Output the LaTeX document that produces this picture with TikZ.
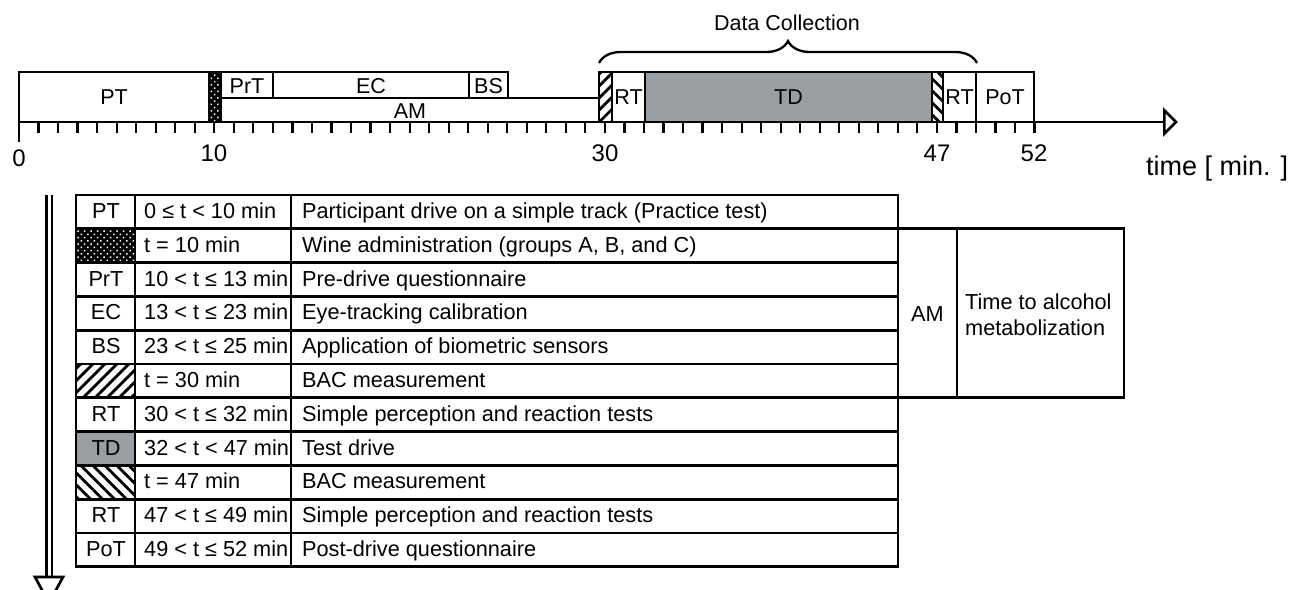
\documentclass[tikz,border=0pt]{standalone}
\usepackage{fontspec}
\setmainfont{Liberation Sans}
\usetikzlibrary{arrows.meta,patterns.meta,decorations.pathreplacing}
\definecolor{tdgray}{RGB}{155,158,161}
\tikzset{
  tline/.style={line width=2.7pt},
  boxlab/.style={anchor=base, inner sep=0pt, font=\fontsize{21.5}{25}\selectfont},
  ticklab/.style={anchor=base, inner sep=0pt, font=\fontsize{24}{28}\selectfont},
  celltxt/.style={inner sep=0pt, font=\fontsize{21.7}{25}\selectfont},
  winedots/.style={pattern={Dots[distance=4.6pt, radius=1.05pt, angle=45]}, pattern color=white},
  bacne/.style={pattern={Lines[angle=45, distance=8.5pt, line width=2.8pt]}},
  bacnw/.style={pattern={Lines[angle=-45, distance=8.5pt, line width=2.8pt]}}
}
\begin{document}
\begin{tikzpicture}[x=1pt, y=-1pt]
\useasboundingbox (0,0) rectangle (1298,589);

% timeline
\fill[tdgray] (645,72) rectangle (932,122);
\fill[black] (209,72) rectangle (221,122);
\fill[winedots] (209,72) rectangle (221,122);
\fill[bacne] (599,72) rectangle (612,122);
\fill[bacnw] (932,72) rectangle (943,122);
\foreach \a/\b/\c/\d in {19/72/209/122, 209/72/221/122, 221/72/273/98, 273/72/469/98,
  469/72/508/98, 221/98/599/122, 599/72/612/122, 612/72/645/122, 645/72/932/122,
  932/72/943/122, 943/72/976/122, 976/72/1034/122}
  \draw[tline] (\a,\b) rectangle (\c,\d);
\node[boxlab] (pt) at (114,104) {PT};
\node[boxlab] (prt) at (247,93) {PrT};
\node[boxlab] (ec) at (371,93) {EC};
\node[boxlab] (bs) at (488.5,93) {BS};
\node[boxlab] (am) at (410,118) {AM};
\node[boxlab] (rt1) at (628.5,104) {RT};
\node[boxlab] (td) at (788.5,104) {TD};
\node[boxlab] (rt2) at (959.5,104) {RT};
\node[boxlab] (pot) at (1005,104) {PoT};

\coordinate (t0) at (19,122);
\coordinate (tend) at (1178,122);
\draw[tline, -{Triangle[open, length=15pt, width=29pt, line width=2.7pt]}] (t0) -- (tend);
\draw[tline] (t0) -- ++(0,20);
\foreach \t in {1,...,52}
  \draw[line width=2.2pt] ({19+19.53*\t},122) -- ++(0,11);
\node[ticklab] (l0) at (19,166) {0};
\node[ticklab] (l10) at (214,161) {10};
\node[ticklab] (l30) at (605,161) {30};
\node[ticklab] (l47) at (937,161) {47};
\node[ticklab] (l52) at (1034,161) {52};
\node[anchor=base west, inner sep=0pt, font=\fontsize{27}{30}\selectfont] (time) at (1146,175) {time [ min. ]};

\draw[line width=2.3pt, decorate, decoration={brace, amplitude=22pt}] (599,63) -- (977,63);
\node[anchor=base, inner sep=0pt, font=\fontsize{21.5}{25}\selectfont] (dc) at (787,30) {Data Collection};

% table
\fill[black] (76,228.8) rectangle (135,262.6);
\fill[winedots] (76,228.8) rectangle (135,262.6);
\fill[bacne] (76,364) rectangle (135,397.8);
\fill[tdgray] (76,431.6) rectangle (135,465.4);
\fill[bacnw] (76,465.4) rectangle (135,499.2);
\foreach \k in {1,...,10}
  \draw[tline] (76,{195+33.8*\k}) -- (898,{195+33.8*\k});
\foreach \x in {135,291}
  \draw[tline] (\x,195) -- (\x,566.8);
\draw[tline] (76,195) rectangle (898,566.8);
\draw[tline] (898,228.8) rectangle (1124,397.8);
\draw[tline] (957,228.8) -- (957,397.8);

\foreach \i/\lab/\tim/\txt in {
  0/PT/{0 ≤ t < 10 min}/{Participant drive on a simple track (Practice test)},
  1//{t = 10 min}/{Wine administration (groups A, B, and C)},
  2/PrT/{10 < t ≤ 13 min}/{Pre-drive questionnaire},
  3/EC/{13 < t ≤ 23 min}/{Eye-tracking calibration},
  4/BS/{23 < t ≤ 25 min}/{Application of biometric sensors},
  5//{t = 30 min}/{BAC measurement},
  6/RT/{30 < t ≤ 32 min}/{Simple perception and reaction tests},
  7/TD/{32 < t < 47 min}/{Test drive},
  8//{t = 47 min}/{BAC measurement},
  9/RT/{47 < t ≤ 49 min}/{Simple perception and reaction tests},
  10/PoT/{49 < t ≤ 52 min}/{Post-drive questionnaire}}
{
  \node[celltxt, anchor=base] (lab\i) at (106,{218.5+33.8*\i}) {\lab};
  \node[celltxt, anchor=base west] (tim\i) at (144,{218.5+33.8*\i}) {\tim};
  \node[celltxt, anchor=base west] (txt\i) at (302,{218.5+33.8*\i}) {\txt};
}
\node[celltxt, anchor=base] (amcol) at (927.5,321) {AM};
\node[celltxt, anchor=west, align=left, font=\fontsize{21.7}{26}\selectfont] (amtxt) at (965,315) {Time to alcohol\\metabolization};

% downward arrow
\coordinate (vtop) at (49,195);
\coordinate (vbot) at (49,577);
\draw[line width=2.6pt, double, double distance=3pt] (vtop) -- (vbot);
\draw[tline, fill=white] (35,577) -- (63,577) -- (49,603) -- cycle;
\end{tikzpicture}
\end{document}
